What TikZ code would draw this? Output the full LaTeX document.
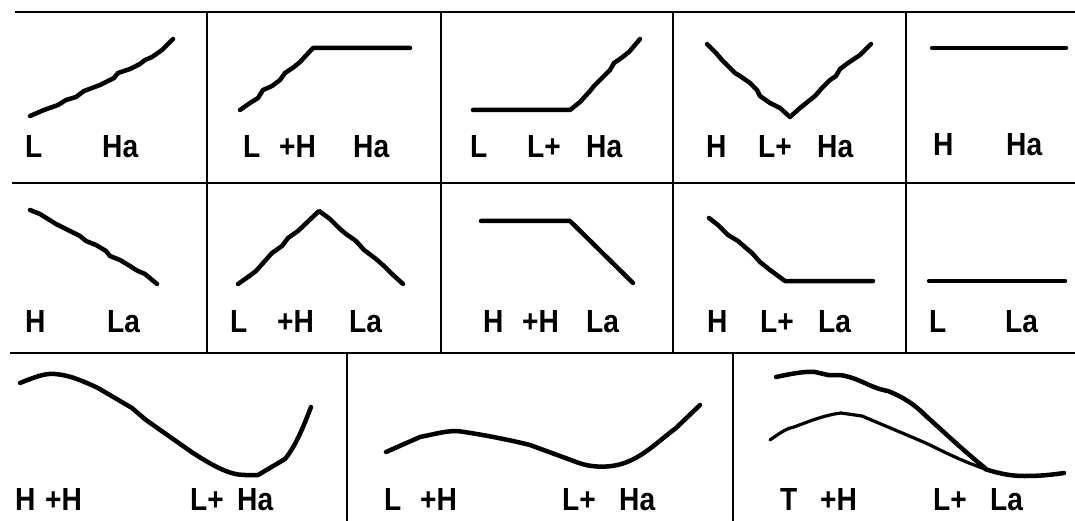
\documentclass[tikz,border=0pt]{standalone}
\usepackage{fontspec}
\setmainfont{Liberation Sans}
\newfontfamily\labfont[FakeStretch=0.88]{Liberation Sans}
\begin{document}
\begin{tikzpicture}[x=1pt,y=-1pt,
  gridline/.style={line width=1.8pt},
  curve/.style={line width=4.5pt, line cap=round, line join=round},
  thincurve/.style={line width=3.2pt, line cap=round, line join=round},
  lab/.style={anchor=base west, inner sep=0pt, font=\labfont\fontsize{32}{34}\selectfont\bfseries}]
\useasboundingbox (0,0) rectangle (1075,521);
% grid
\draw[gridline] (15,12) -- (1075,12);
\draw[gridline] (12,183) -- (1075,183);
\draw[gridline] (10,353) -- (1075,353);
\foreach \x in {207,441,673,906} \draw[gridline] (\x,12) -- (\x,353);
\foreach \x in {347,733} \draw[gridline] (\x,353) -- (\x,521);
% row 1
\draw[curve] (30,116) -- (44,110) -- (58,105) -- (66,100) -- (76,97) -- (84,91) -- (100,85) -- (114,78) -- (118,73) -- (130,69) -- (140,64) -- (145,60) -- (152,57) -- (162,50) -- (173,39);
\draw[curve] (240,110) -- (250,103) -- (258,98) -- (263,90) -- (272,86) -- (280,80) -- (285,73) -- (294,67) -- (300,62) -- (313,48) -- (410,48);
\draw[curve] (473,110) -- (570,110) -- (580,102) -- (590,91) -- (594,86) -- (600,80) -- (610,70) -- (614,63) -- (620,59) -- (629,52) -- (640,39);
\draw[curve] (707,44) -- (716,53) -- (722,60) -- (735,73) -- (740,76) -- (750,83) -- (757,90) -- (760,96) -- (770,103) -- (780,108) -- (790,117) -- (800,108) -- (815,96) -- (822,88) -- (830,80) -- (836,76) -- (840,69) -- (848,63) -- (860,55) -- (871,44);
\draw[curve] (932,48) -- (1066,48);
\node[lab] (l11a) at (25,158) {L};
\node[lab] (l11b) at (102,158) {Ha};
\node[lab] (l12a) at (243,158) {L};
\node[lab] (l12b) at (279,158) {+H};
\node[lab] (l12c) at (353,158) {Ha};
\node[lab] (l13a) at (470,158) {L};
\node[lab] (l13b) at (527,158) {L+};
\node[lab] (l13c) at (586,158) {Ha};
\node[lab] (l14a) at (706,158) {H};
\node[lab] (l14b) at (758,158) {L+};
\node[lab] (l14c) at (817,158) {Ha};
\node[lab] (l15a) at (933,156) {H};
\node[lab] (l15b) at (1006,156) {Ha};
% row 2
\draw[curve] (30,210) -- (40,214) -- (48,219) -- (56,224) -- (70,231) -- (80,236) -- (86,241) -- (96,245) -- (106,251) -- (110,256) -- (120,260) -- (130,266) -- (136,270) -- (145,274) -- (157,284);
\draw[curve] (238,284) -- (248,277) -- (256,271) -- (264,262) -- (272,253) -- (282,246) -- (288,238) -- (298,231) -- (319,211) -- (330,219) -- (340,229) -- (346,234) -- (356,241) -- (364,250) -- (376,259) -- (384,266) -- (392,274) -- (403,284);
\draw[curve] (481,221) -- (570,221) -- (633,283);
\draw[curve] (709,218) -- (718,225) -- (728,235) -- (738,241) -- (746,248) -- (752,253) -- (760,262) -- (770,270) -- (785,281) -- (873,281);
\draw[curve] (929,281) -- (1065,281);
\node[lab] (l21a) at (25,332) {H};
\node[lab] (l21b) at (107,332) {La};
\node[lab] (l22a) at (230,332) {L};
\node[lab] (l22b) at (277,332) {+H};
\node[lab] (l22c) at (349,332) {La};
\node[lab] (l23a) at (483,332) {H};
\node[lab] (l23b) at (522,332) {+H};
\node[lab] (l23c) at (586,332) {La};
\node[lab] (l24a) at (707,332) {H};
\node[lab] (l24b) at (760,332) {L+};
\node[lab] (l24c) at (818,332) {La};
\node[lab] (l25a) at (929,332) {L};
\node[lab] (l25b) at (1005,332) {La};
% row 3
\draw[curve] (20,383) .. controls (35,377) and (45,373) .. (55,374)
  .. controls (70,375) and (85,382) .. (98,388)
  -- (132,408) -- (146,420) -- (193,453)
  .. controls (215,467) and (230,475) .. (245,475)
  -- (258,475) -- (285,459) .. controls (295,447) and (303,428) .. (311,407);
\draw[curve] (386,452) -- (420,437) .. controls (435,434) and (445,431) .. (457,431)
  .. controls (480,434) and (510,440) .. (530,445)
  -- (579,463) .. controls (590,467) and (610,469) .. (627,462)
  .. controls (645,455) and (660,440) .. (676,428) -- (700,405);
\draw[curve] (776,377) .. controls (790,374) and (805,371) .. (815,372)
  -- (828,375) -- (840,375) .. controls (860,378) and (870,388) .. (888,391)
  .. controls (905,398) and (915,405) .. (926,416)
  .. controls (945,433) and (965,452) .. (985,468);
\draw[thincurve] (770,440) .. controls (780,433) and (785,429) .. (794,427)
  .. controls (810,421) and (825,415) .. (841,413)
  -- (862,416) .. controls (890,428) and (910,436) .. (930,445)
  .. controls (950,455) and (965,462) .. (985,469);
\draw[curve] (985,469) .. controls (1000,474) and (1012,476) .. (1024,476)
  .. controls (1040,476) and (1050,475) .. (1064,473);
\node[lab] (l31a) at (15,510) {H};
\node[lab] (l31b) at (45,510) {+H};
\node[lab] (l31c) at (190,510) {L+};
\node[lab] (l31d) at (237,510) {Ha};
\node[lab] (l32a) at (384,510) {L};
\node[lab] (l32b) at (420,510) {+H};
\node[lab] (l32c) at (562,510) {L+};
\node[lab] (l32d) at (619,510) {Ha};
\node[lab] (l33a) at (780,510) {T};
\node[lab] (l33b) at (820,510) {+H};
\node[lab] (l33c) at (933,510) {L+};
\node[lab] (l33d) at (990,510) {La};
\end{tikzpicture}
\end{document}
